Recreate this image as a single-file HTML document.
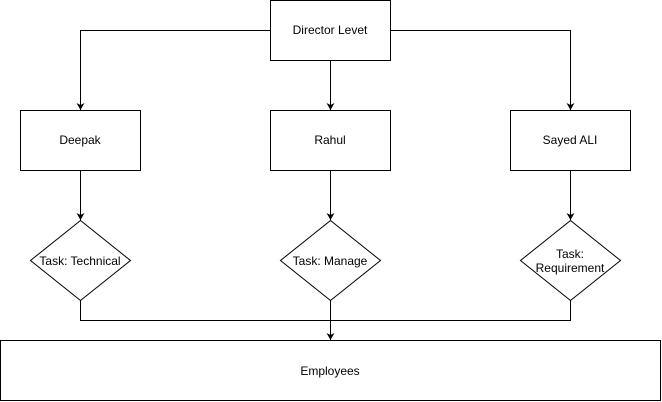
<!DOCTYPE html>
<html><head><meta charset="utf-8"><style>
html,body{margin:0;padding:0;background:#fff;}
svg{display:block;}
text{font-family:"Liberation Sans",Arial,sans-serif;font-size:12px;fill:#000;}
</style></head><body>
<svg width="662" height="402" viewBox="0 0 662 402" xmlns="http://www.w3.org/2000/svg">
<defs><marker id="a" markerWidth="8" markerHeight="8" refX="7" refY="4" orient="auto" markerUnits="userSpaceOnUse">
<path d="M0,0 L7,4 L0,8 L2,4 Z" fill="#000"/></marker></defs>
<g fill="#fff" stroke="#000" stroke-width="1">
<rect x="270.5" y="0.5" width="120" height="60"/>
<rect x="20.5" y="110.5" width="120" height="60"/>
<rect x="270.5" y="110.5" width="120" height="60"/>
<rect x="510.5" y="110.5" width="120" height="60"/>
<path d="M80.5,220.5 L130.5,260.5 L80.5,300.5 L30.5,260.5 Z"/>
<path d="M330.5,220.5 L380.5,260.5 L330.5,300.5 L280.5,260.5 Z"/>
<path d="M570.5,220.5 L620.5,260.5 L570.5,300.5 L520.5,260.5 Z"/>
<rect x="0.5" y="340.5" width="660" height="60"/>
</g>
<g fill="none" stroke="#000" stroke-width="1">
<path d="M270.5,30.5 H80.5 V110" marker-end="url(#a)"/>
<path d="M330.5,60.5 V110" marker-end="url(#a)"/>
<path d="M390.5,30.5 H570.5 V110" marker-end="url(#a)"/>
<path d="M80.5,170.5 V220" marker-end="url(#a)"/>
<path d="M330.5,170.5 V220" marker-end="url(#a)"/>
<path d="M570.5,170.5 V220" marker-end="url(#a)"/>
<path d="M80.5,300.5 V320.5 H570.5 V300.5"/>
<path d="M330.5,300.5 V340" marker-end="url(#a)"/>
</g>
<g text-anchor="middle">
<text x="330" y="34">Director Levet</text>
<text x="80" y="144">Deepak</text>
<text x="330" y="144">Rahul</text>
<text x="570" y="144">Sayed ALI</text>
<text x="80" y="265">Task: Technical</text>
<text x="330" y="265">Task: Manage</text>
<text x="570" y="258">Task:</text>
<text x="570" y="272">Requirement</text>
<text x="330" y="375">Employees</text>
</g>
</svg>
</body></html>
